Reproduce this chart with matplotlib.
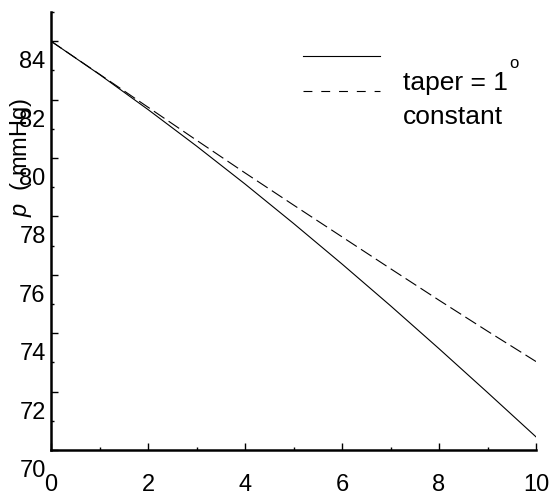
import numpy as np
import matplotlib
matplotlib.use("Agg")
import matplotlib.pyplot as plt
import matplotlib.transforms as mtransforms

plt.rcParams['font.family'] = ['Liberation Sans', 'DejaVu Sans']
plt.rcParams['mathtext.fontset'] = 'custom'
plt.rcParams['mathtext.rm'] = 'Liberation Sans'
plt.rcParams['mathtext.it'] = 'Liberation Sans:italic'

# distance along the vessel vs pressure
x = [0, 1, 2, 3, 4, 5, 6, 7, 8, 9, 10]
p_taper = [84.0, 82.86, 81.66, 80.41, 79.11, 77.76, 76.37, 74.94, 73.47, 71.97, 70.45]
p_constant = [84.0, 82.87, 81.74, 80.61, 79.49, 78.39, 77.30, 76.21, 75.13, 74.07, 73.03]

xticks = [0, 2, 4, 6, 8, 10]
yticks = [70, 72, 74, 76, 78, 80, 82, 84]

fs = 17
fs_leg = 19

fig = plt.figure(figsize=(5.5, 4.99), dpi=100)
ax = fig.add_axes([51 / 550, 49 / 499, 485 / 550, 438 / 499])

ax.plot(x, p_taper, color='black', lw=0.8)
ax.plot(x, p_constant, color='black', lw=0.8, dashes=(11.5, 4.5))

ax.set_xlim(0, 10)
ax.set_ylim(70, 85)

for side in ['top', 'right']:
    ax.spines[side].set_visible(False)
for side in ['left', 'bottom']:
    ax.spines[side].set_linewidth(1.8)

ax.set_xticks(xticks)
ax.set_xticks(np.arange(1, 10, 2), minor=True)
ax.set_yticks(yticks)
ax.set_yticks(np.arange(71, 86, 2), minor=True)
ax.tick_params(which='both', direction='in', width=1, color='black')
ax.tick_params(which='major', length=5)
ax.tick_params(which='minor', length=2.5)
ax.tick_params(axis='x', which='major', labelsize=fs, pad=17)
ax.tick_params(axis='y', labelleft=False)

# y labels sit a bit below their ticks in the original
shift = mtransforms.ScaledTranslation(0, -0.21, fig.dpi_scale_trans)
for v in yticks:
    ax.text(-0.011, v, str(v), transform=ax.get_yaxis_transform() + shift,
            ha='right', va='center', fontsize=fs)

fig.text(21 / 550, 1 - 157 / 499, r"$p$  ( mmHg)", rotation=90,
         ha='center', va='center', fontsize=fs)

# hand drawn legend
ax.plot([0.519, 0.678], [0.9, 0.9], transform=ax.transAxes, color='black', lw=0.8)
ax.plot([0.519, 0.678], [0.82, 0.82], transform=ax.transAxes, color='black',
        lw=0.8, dashes=(8, 8))
fig.text(403 / 550, 1 - 83 / 499, "taper = 1", ha='left', va='center', fontsize=fs_leg)
fig.text(514 / 550, 1 - 64 / 499, "o", ha='center', va='center', fontsize=12)
fig.text(403 / 550, 1 - 117 / 499, "constant", ha='left', va='center', fontsize=fs_leg)

fig.savefig("out.png", dpi=100)
